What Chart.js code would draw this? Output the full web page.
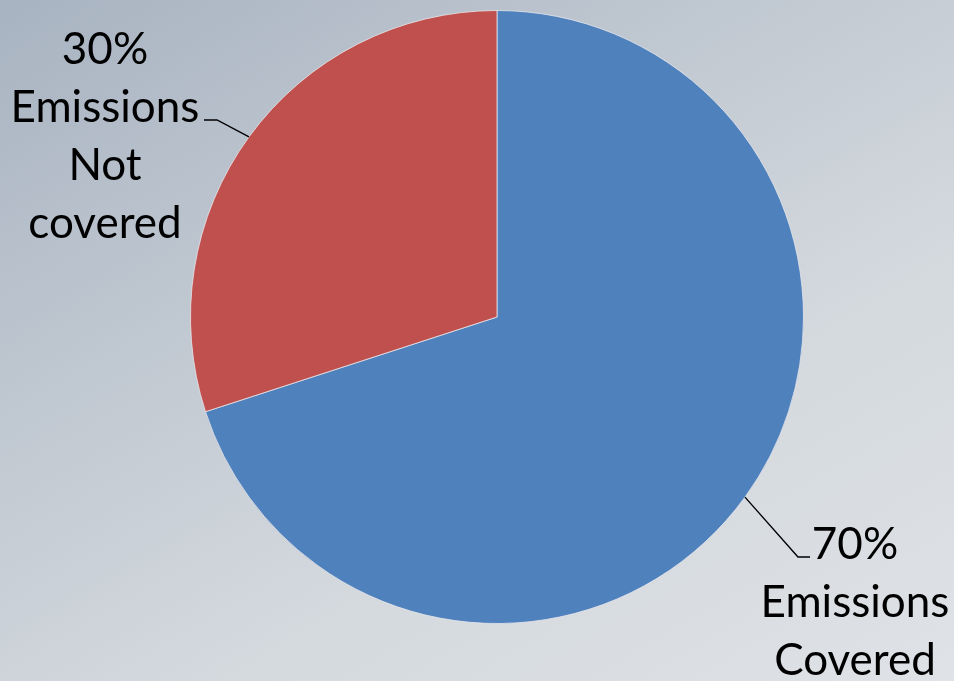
<!DOCTYPE html>
<html>
<head>
<meta charset="utf-8">
<script src="https://cdn.jsdelivr.net/npm/chart.js@4"></script>
<style>
  html, body { margin: 0; padding: 0; }
  body {
    width: 954px; height: 681px; overflow: hidden;
    background: linear-gradient(150deg, #a8b3c1 0%, #c0c8d1 35%, #d4d9de 65%, #dfe2e6 100%);
  }
  #wrap { position: relative; width: 954px; height: 681px; }
</style>
</head>
<body>
<div id="wrap"><canvas id="pie"></canvas></div>
<script>
  // Chart data
  const categories = ["Emissions Covered", "Emissions Not covered"];
  const shares = [70, 30];
  const labelLines = [["70%", "Emissions", "Covered"], ["30%", "Emissions", "Not", "covered"]];
  const colors = ["#4f81bd", "#c0504d"];

  // where each label's leader line bends and where the text block sits
  const leaders = [
    { bend: [798, 557], end: [810, 557], textX: 855, textTop: 545 },
    { bend: [217, 120], end: [204, 120], textX: 105, textTop: 50 }
  ];

  const leaderLabels = {
    id: "leaderLabels",
    afterDatasetsDraw(chart) {
      const ctx = chart.ctx;
      const meta = chart.getDatasetMeta(0);
      ctx.save();
      meta.data.forEach(function(arc, i) {
        const mid = (arc.startAngle + arc.endAngle) / 2;
        const x0 = arc.x + Math.cos(mid) * arc.outerRadius;
        const y0 = arc.y + Math.sin(mid) * arc.outerRadius;
        const l = leaders[i];
        ctx.strokeStyle = "#000";
        ctx.lineWidth = 1.4;
        ctx.beginPath();
        ctx.moveTo(x0, y0);
        ctx.lineTo(l.bend[0], l.bend[1]);
        ctx.lineTo(l.end[0], l.end[1]);
        ctx.stroke();

        ctx.fillStyle = "#000";
        ctx.font = "44px Lato, 'Open Sans', sans-serif";
        ctx.textAlign = "center";
        ctx.textBaseline = "middle";
        labelLines[i].forEach(function(line, k) {
          ctx.fillText(line, l.textX, l.textTop + k * 58);
        });
      });
      ctx.restore();
    }
  };

  const canvas = document.getElementById("pie").getContext("2d");
  new Chart(canvas, {
    type: "pie",
    data: {
      labels: categories,
      datasets: [{
        data: shares,
        backgroundColor: colors,
        borderColor: "rgba(230,230,235,0.8)",
        borderWidth: 1
      }]
    },
    options: {
      responsive: true,
      maintainAspectRatio: false,
      animation: false,
      layout: { padding: { top: 10, bottom: 57, left: 40, right: 0 } },
      plugins: {
        legend: { display: false },
        tooltip: { enabled: false }
      }
    },
    plugins: [leaderLabels]
  });
</script>
</body>
</html>
